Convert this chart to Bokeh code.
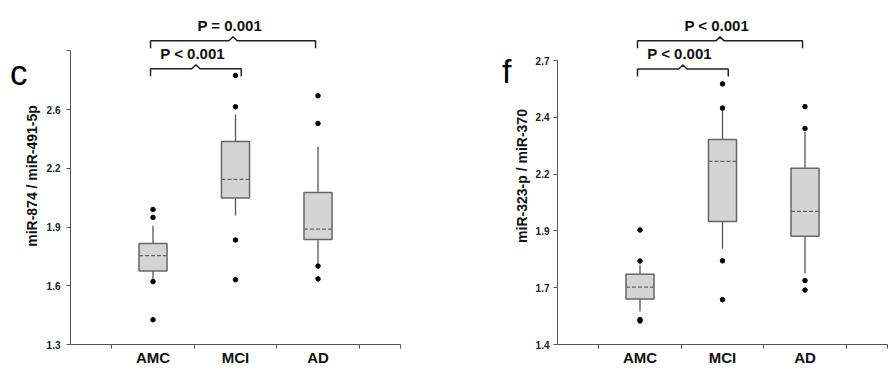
from bokeh.plotting import figure
from bokeh.layouts import row
from bokeh.models import FixedTicker, LinearAxis, ColumnDataSource
from bokeh.core.properties import value
from bokeh.embed import file_html
from bokeh.resources import INLINE

groups = ["AMC", "MCI", "AD"]

# ---- panel c ----
c_q1 = [1.706, 2.110, 1.881]
c_q3 = [1.859, 2.423, 2.141]
c_mid = [1.792, 2.213, 1.938]
c_lo = [1.662, 2.014, 1.748]
c_hi = [1.957, 2.572, 2.394]
c_out_group = ["AMC", "AMC", "AMC", "AMC", "MCI", "MCI", "MCI", "MCI", "AD", "AD", "AD", "AD"]
c_out_val = [2.047, 2.003, 1.648, 1.437, 2.788, 2.615, 1.878, 1.658, 2.676, 2.523, 1.734, 1.663]
c_ticks = [1.3, 1.625, 1.95, 2.275, 2.6, 2.925]
c_tick_labels = ["1.3", "1.6", "1.9", "2.2", "2.6", ""]
c_ylabel = "miR-874 / miR-491-5p"
c_pairs = [("AMC", "MCI"), ("AMC", "AD")]
c_pvals = ["P < 0.001", "P = 0.001"]
c_levels = [2.825, 2.980]

# ---- panel f ----
f_q1 = [1.608, 1.963, 1.896]
f_q3 = [1.722, 2.338, 2.207]
f_mid = [1.663, 2.238, 2.009]
f_lo = [1.551, 1.838, 1.725]
f_hi = [1.765, 2.470, 2.375]
f_out_group = ["AMC", "AMC", "AMC", "AMC", "MCI", "MCI", "MCI", "MCI", "AD", "AD", "AD", "AD"]
f_out_val = [1.924, 1.782, 1.514, 1.508, 2.593, 2.482, 1.783, 1.605, 2.489, 2.389, 1.693, 1.649]
f_ticks = [1.4, 1.66, 1.92, 2.18, 2.44, 2.7]
f_tick_labels = ["1.4", "1.7", "1.9", "2.2", "2.4", "2.7"]
f_ylabel = "miR-323-p / miR-370"
f_pairs = [("AMC", "MCI"), ("AMC", "AD")]
f_pvals = ["P < 0.001", "P < 0.001"]
f_levels = [2.661, 2.790]

FONT = "Liberation Sans"
MT = 7
MB = 33
FRAME_H = 337
H = MT + FRAME_H + MB


def make_panel(letter, q1, q3, mid, lo, hi, og, ov, ticks, tlabels, ylabel,
               pairs, pvals, levels, width, mbl, mbr, tick_standoff, title_standoff,
               letter_size, letter_standoff, letter_y):
    y0 = ticks[0]
    ppu = 235.0 / (1.3) if letter == "c" else 284.0 / 1.3
    y1 = y0 + FRAME_H / ppu
    p = figure(width=width, height=H, x_range=(0, 4), y_range=(y0, y1),
               output_backend="svg", toolbar_location=None,
               min_border_left=mbl, min_border_right=mbr,
               min_border_top=MT, min_border_bottom=MB)
    p.grid.visible = False
    p.outline_line_color = None
    p.background_fill_color = "white"
    p.border_fill_color = "white"

    idx = {g: i + 1 for i, g in enumerate(groups)}
    xs = [idx[g] for g in groups]
    src = ColumnDataSource(dict(x=xs, q1=q1, q3=q3, mid=mid, lo=lo, hi=hi))
    bw = 0.34
    cw = 0.18
    # whisker stems
    p.segment(x0="x", y0="q3", x1="x", y1="hi", source=src, line_color="#555555", line_width=1.3)
    p.segment(x0="x", y0="q1", x1="x", y1="lo", source=src, line_color="#555555", line_width=1.3)
    # caps
    p.rect(x="x", y="hi", width=cw, height=0, source=src, line_color="#555555", line_width=1.3, fill_alpha=0)
    p.rect(x="x", y="lo", width=cw, height=0, source=src, line_color="#555555", line_width=1.3, fill_alpha=0)
    # boxes
    p.vbar(x="x", bottom="q1", top="q3", width=bw, source=src,
           fill_color="#d4d4d4", line_color="#666666", line_width=1.5)
    # dashed centre line
    src2 = ColumnDataSource(dict(x0=[x - bw / 2 for x in xs], x1=[x + bw / 2 for x in xs], m=mid))
    p.segment(x0="x0", y0="m", x1="x1", y1="m", source=src2,
              line_color="#666666", line_width=1.2, line_dash="4 2")
    # outliers
    p.scatter(x=[idx[g] for g in og], y=ov, size=4.5, color="black")

    # brackets
    drop = 7.5 / ppu
    notch = 4.0 / ppu
    pads = [0.07, -0.03]
    bxs, bys = [], []
    for (a, b), lvl, pad in zip(pairs, levels, pads):
        xa = idx[a] - 0.03
        xb = idx[b] + pad
        xm = (xa + xb) / 2
        bxs.append([xa, xa, xm - 0.05, xm, xm + 0.05, xb, xb])
        bys.append([lvl - drop, lvl, lvl, lvl + notch, lvl, lvl, lvl - drop])
    p.multi_line(xs=bxs, ys=bys, line_color="#222222", line_width=1.5)
    tx = [(idx[a] - 0.03 + idx[b] + pad) / 2 - 0.04 for (a, b), pad in zip(pairs, pads)]
    ty = [lvl + 15.5 / ppu for lvl in levels]
    p.text(x=tx, y=ty, text=pvals, text_font=value(FONT), text_font_style="bold",
           text_font_size="15px", text_align="center", text_baseline="alphabetic",
           text_color="#111111")

    # y axis
    yax = p.yaxis[0]
    yax.ticker = FixedTicker(ticks=ticks, minor_ticks=[])
    yax.major_label_overrides = {t: l for t, l in zip(ticks, tlabels)}
    yax.bounds = (ticks[0], ticks[-1])
    yax.axis_label = ylabel
    yax.axis_label_text_font = FONT
    yax.axis_label_text_font_style = "bold"
    yax.axis_label_text_font_size = "14px"
    yax.axis_label_text_color = "#111111"
    yax.axis_label_standoff = title_standoff
    yax.major_label_text_font = FONT
    yax.major_label_text_font_style = "bold"
    yax.major_label_text_font_size = "10px"
    yax.major_label_text_color = "#222222"
    yax.major_label_standoff = tick_standoff
    yax.major_tick_out = 4
    yax.major_tick_in = 0
    yax.axis_line_color = "#555555"
    yax.major_tick_line_color = "#555555"

    # x axis
    xax = p.xaxis[0]
    xax.ticker = FixedTicker(ticks=xs, minor_ticks=[0.5, 1.5, 2.5, 3.5, 4])
    xax.major_label_overrides = {idx[g]: g for g in groups}
    xax.major_label_text_font = FONT
    xax.major_label_text_font_style = "bold"
    xax.major_label_text_font_size = "15px"
    xax.major_label_text_color = "#111111"
    xax.major_label_standoff = 0
    xax.major_tick_out = 0
    xax.major_tick_in = 0
    xax.minor_tick_out = 4
    xax.minor_tick_in = 0
    xax.axis_line_color = "#555555"
    xax.minor_tick_line_color = "#555555"

    # panel letter: an extra bare axis on the left carrying one label
    yc = round(y0 + (344.7 - letter_y) / ppu, 3)
    lax = LinearAxis(ticker=FixedTicker(ticks=[yc], minor_ticks=[]),
                     major_label_overrides={yc: letter},
                     major_label_orientation="horizontal",
                     major_label_text_font=FONT,
                     major_label_text_font_size=letter_size,
                     major_label_text_color="#000000",
                     major_label_standoff=letter_standoff,
                     major_tick_out=0, major_tick_in=0,
                     axis_line_color=None, major_tick_line_color=None,
                     minor_tick_line_color=None)
    p.add_layout(lax, "left")
    return p


pc = make_panel("c", c_q1, c_q3, c_mid, c_lo, c_hi, c_out_group, c_out_val,
                c_ticks, c_tick_labels, c_ylabel, c_pairs, c_pvals, c_levels,
                width=480, mbl=70, mbr=80, tick_standoff=6, title_standoff=4,
                letter_size="35px", letter_standoff=-7, letter_y=73.0)
pf = make_panel("f", f_q1, f_q3, f_mid, f_lo, f_hi, f_out_group, f_out_val,
                f_ticks, f_tick_labels, f_ylabel, f_pairs, f_pvals, f_levels,
                width=409, mbl=77, mbr=2, tick_standoff=4, title_standoff=3,
                letter_size="34px", letter_standoff=-1, letter_y=71.0)

layout = row(pc, pf)
open("out.html", "w").write(file_html(layout, INLINE))
